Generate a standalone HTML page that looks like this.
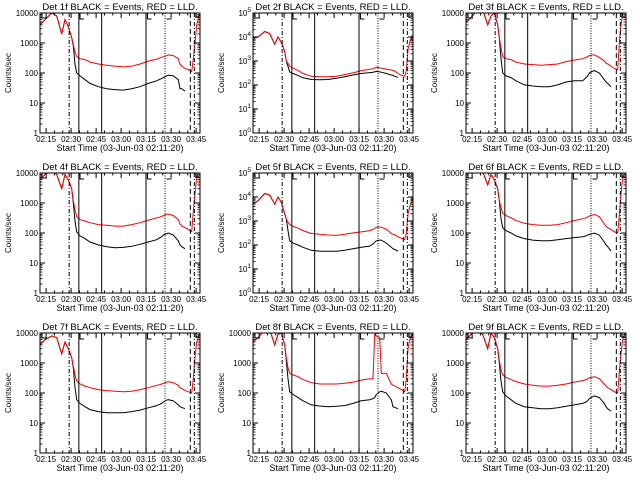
<!DOCTYPE html>
<html><head><meta charset="utf-8">
<style>
html,body{margin:0;padding:0;background:#fff;}
svg{display:block;font-family:"Liberation Sans",sans-serif;}
</style></head>
<body>
<svg id="chart" width="640" height="480" viewBox="0 0 640 480" xmlns="http://www.w3.org/2000/svg">
<rect x="0" y="0" width="640" height="480" fill="#fff"/>
</svg>
<script>
// Shared time knots (minutes after 02:11:20)
const timeKnots = [0,3,7,10,13,15,17,19,20,21,22,24,27,30,35,40,45,50,55,60,65,70,72,73,74,76,77,80,83,84,85,87,89,91,92,93,94,95.5];
const xTickLabels = ["02:15","02:30","02:45","03:00","03:15","03:30","03:45"];
const xTickMinutes = [3.67,18.67,33.67,48.67,63.67,78.67,93.67];
const detNames = ["1f","2f","3f","4f","5f","6f","7f","8f","9f"];
const decades = [4,5,4,4,5,4,4,4,4];
// series values (counts/sec), null = no data
const red1 = [4000,6000,10000,8000,2000,6000,3500,1500,900,500,350,300,280,230,200,180,170,160,170,200,250,290,320,330,350,380,400,380,300,200,170,140,130,110,300,1000,4000,9000];
const blk1 = [4000,6000,10000,8000,2000,6000,3500,1500,800,200,100,80,60,45,35,30,28,27,30,35,45,55,62,65,70,80,85,80,60,30,30,25,null,null,null,null,null,null];
const red2 = [9000,10000,17000,14000,5000,10000,6000,2500,1000,800,600,500,400,300,230,220,220,230,270,320,400,450,480,500,550,520,500,450,420,400,380,300,250,230,400,3000,6000,12000];
const blk2 = [9000,10000,17000,14000,5000,10000,6000,2500,1000,600,350,300,250,200,170,165,170,190,220,260,300,330,340,350,370,350,340,300,260,250,230,210,null,null,null,null,null,null];
const red3 = [5000,7000,13000,13000,4000,8000,10000,4000,1500,700,350,300,280,230,200,190,180,190,200,240,270,300,330,350,380,400,400,330,250,210,200,170,140,130,1000,4000,9000,13000];
const blk3 = [5000,7000,13000,13000,4000,8000,10000,4000,1500,300,100,80,70,55,40,37,35,35,40,50,55,55,70,80,100,115,120,100,60,50,45,35,null,null,null,null,null,null];
const red4 = [6000,9000,13000,9000,3000,9000,6000,3000,1200,600,350,280,250,220,190,180,170,170,190,220,270,320,340,360,380,420,430,380,280,200,170,150,130,110,500,2000,7000,13000];
const blk4 = [6000,9000,13000,9000,3000,9000,6000,3000,1000,250,110,80,65,50,40,35,32,33,36,42,50,60,70,75,85,95,100,85,55,40,35,30,null,null,null,null,null,null];
const red5 = [5000,7000,14000,12000,5000,10000,6000,2000,1200,900,700,600,500,400,300,280,260,250,280,320,350,400,450,480,550,560,550,450,300,280,260,220,190,170,300,2000,4000,8000];
const blk5 = [5000,7000,14000,12000,5000,10000,6000,2000,1200,400,150,120,100,80,60,55,55,55,60,70,80,90,110,130,150,160,160,120,80,70,65,55,null,null,null,null,null,null];
const red6 = [13000,13000,12000,11000,4000,9000,6000,3000,1200,700,450,380,320,260,210,190,180,180,190,220,260,300,320,340,370,400,410,350,200,170,150,130,110,100,400,2000,7000,12000];
const blk6 = [13000,13000,12000,11000,4000,9000,6000,3000,1200,300,150,120,100,80,65,58,55,55,60,65,70,75,80,85,90,95,100,85,50,40,35,25,null,null,null,null,null,null];
const red7 = [4000,6000,8000,7000,2000,5000,3000,1500,800,400,250,200,170,150,130,120,115,110,115,130,150,180,190,200,210,230,240,220,180,150,140,120,110,100,300,1500,5000,9000];
const blk7 = [4000,6000,8000,7000,2000,5000,3000,1500,700,150,60,45,35,28,24,22,22,22,24,27,32,38,42,45,50,58,60,55,40,35,33,30,null,null,null,null,null,null];
const red8 = [5000,7000,13000,13000,4000,9000,10000,4000,1500,700,450,400,350,280,220,200,200,200,210,230,270,300,300,9000,8000,7000,450,450,200,180,170,150,130,110,300,3000,6000,9000];
const blk8 = [5000,7000,13000,13000,4000,9000,10000,4000,1200,300,110,90,70,55,40,37,35,36,38,45,55,60,65,70,90,110,115,100,60,35,33,30,null,null,null,null,null,null];
const red9 = [6000,9000,13000,9000,3000,10000,7000,3000,1200,600,400,330,280,240,200,180,170,170,180,200,230,260,280,300,320,340,350,300,200,170,150,130,110,100,500,2000,6000,11000];
const blk9 = [6000,9000,13000,9000,3000,10000,7000,3000,1000,250,110,80,60,45,35,32,30,30,32,36,40,45,50,55,65,75,80,70,45,35,30,25,null,null,null,null,null,null];
const redSeries = [red1,red2,red3,red4,red5,red6,red7,red8,red9];
const blackSeries = [blk1,blk2,blk3,blk4,blk5,blk6,blk7,blk8,blk9];
// event marker times (minutes) and styles
const markerMinutes = [17.5,23.3,37.0,63.6,75.0,90.2,92.6];
const markerDash = ["4,2,1,2","", "", "", "1,1.5","5,3","4,2,1,2"];

const NS="http://www.w3.org/2000/svg";
const svg=document.getElementById('chart');
function mk(tag,attrs,parent){const e=document.createElementNS(NS,tag);for(const k in attrs)e.setAttribute(k,attrs[k]);(parent||svg).appendChild(e);return e;}

const PW=160,PH=120,TMAX=96;
for(let p=0;p<9;p++){
  const ox=(p%3)*213, oy=Math.floor(p/3)*160;
  const L=ox+40, T=oy+13, R=L+PW, B=T+PH;
  const nd=decades[p];
  const xs=t=>L+t*PW/TMAX;
  const ys=v=>B-Math.log10(Math.max(v,1e-9))*PH/nd;
  const g=mk('g',{});
  
  
  const clipId='clip'+p;
  const cp=mk('clipPath',{id:clipId},g);mk('rect',{x:L,y:T,width:PW,height:PH},cp);
  function drawSeries(arr,color,name){
    let d='';let pen=false;
    for(let i=0;i<timeKnots.length;i++){
      const v=arr[i];
      if(v===null){pen=false;continue;}
      d+=(pen?'L':'M')+xs(timeKnots[i]).toFixed(1)+','+ys(v).toFixed(1);pen=true;
    }
    const pth=mk('path',{d:d,fill:'none',stroke:color,'stroke-width':1,'clip-path':'url(#'+clipId+')'},g);
    
    
  }
  drawSeries(blackSeries[p],'#000','events-series-black');
  drawSeries(redSeries[p],'#ff0000','lld-series-red');
  for(let i=0;i<markerMinutes.length;i++){
    const x=xs(markerMinutes[i]);
    const ln=mk('line',{x1:x,y1:T,x2:x,y2:B,stroke:'#000','stroke-width':1},g);
    if(markerDash[i])ln.setAttribute('stroke-dasharray',markerDash[i]);
    
    
  }
  mk('path',{d:`M${L+2},${T}v5h5M${L+2},${T+5}v-5`,fill:'none',stroke:'#000','stroke-width':1},g);
  mk('path',{d:`M${xs(24)},${T}v6h4M${xs(64.5)},${T}v6h4M${xs(75.3)+1},${T+6}h5M${xs(93.5)},${T}v4h3`,fill:'none',stroke:'#000','stroke-width':1},g);
  const box=mk('rect',{x:L,y:T,width:PW,height:PH,fill:'none',stroke:'#000','stroke-width':1},g);
  
  
  for(let k=0;k<=nd;k++){
    const y=B-k*PH/nd;
    mk('line',{x1:L,y1:y,x2:L+5,y2:y,stroke:'#000'},g);
    mk('line',{x1:R,y1:y,x2:R-5,y2:y,stroke:'#000'},g);
    if(k<nd)for(let m=2;m<10;m++){const yy=B-(k+Math.log10(m))*PH/nd;
      mk('line',{x1:L,y1:yy,x2:L+2.5,y2:yy,stroke:'#000','stroke-width':0.8},g);
      mk('line',{x1:R,y1:yy,x2:R-2.5,y2:yy,stroke:'#000','stroke-width':0.8},g);}
    const tx=mk('text',{x:L-2,y:y+3,'font-size':8,'text-anchor':'end'},g);
    
    
    if(nd===5){tx.textContent='10';const s=mk('tspan',{dy:-4,'font-size':6.5},tx);s.textContent=String(k);}
    else tx.textContent=String(Math.pow(10,k));
  }
  for(let i=0;i<xTickLabels.length;i++){
    const x=xs(xTickMinutes[i]);
    mk('line',{x1:x,y1:B,x2:x,y2:B-5,stroke:'#000'},g);
    mk('line',{x1:x,y1:T,x2:x,y2:T+5,stroke:'#000'},g);
    for(let m=1;m<3;m++){const xm=xs(xTickMinutes[i]+m*5);if(xm<R){
      mk('line',{x1:xm,y1:B,x2:xm,y2:B-2.5,stroke:'#000'},g);
      mk('line',{x1:xm,y1:T,x2:xm,y2:T+2.5,stroke:'#000'},g);}}
    const tx=mk('text',{x:x,y:B+9,'font-size':8,'text-anchor':'middle'},g);
    tx.textContent=xTickLabels[i];
    
    
  }
  const xt=mk('text',{x:L+80,y:B+18,'font-size':9,'text-anchor':'middle'},g);
  xt.textContent='Start Time (03-Jun-03 02:11:20)';
  
  
  const yt=mk('text',{x:0,y:0,'font-size':8,'text-anchor':'middle',transform:`translate(${ox+11},${T+60}) rotate(-90)`},g);
  yt.textContent='Counts/sec';
  
  
  const tt=mk('text',{x:L+80,y:oy+10,'font-size':9.5,'text-anchor':'middle'},g);
  tt.textContent='Det '+detNames[p]+' BLACK = Events, RED = LLD.';
  
  
}
</script>
</body></html>
